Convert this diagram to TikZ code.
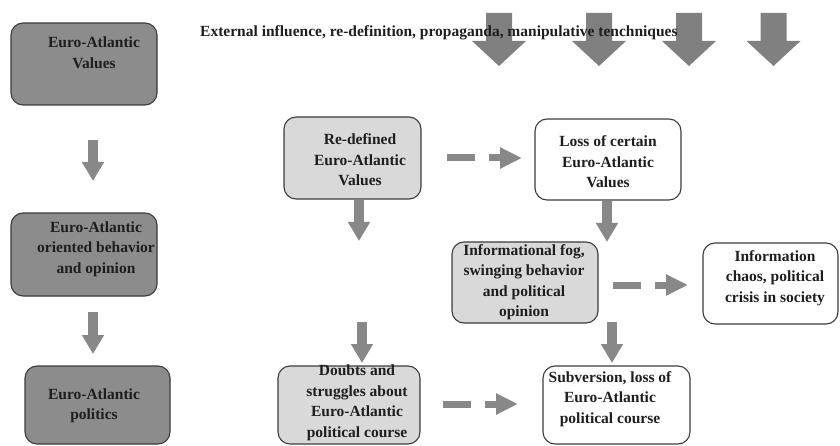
\documentclass[tikz,border=0pt]{standalone}
\usepackage{fontspec}
\setmainfont{Liberation Serif}
\usetikzlibrary{arrows.meta}
\definecolor{darkfill}{HTML}{8C8C8C}
\definecolor{lightfill}{HTML}{D9D9D9}
\definecolor{edge}{HTML}{3C3C3C}
\definecolor{arr}{HTML}{888888}
\definecolor{bigarr}{HTML}{808080}
\definecolor{ink}{HTML}{1E1E1E}
\tikzset{
  box/.style={draw=edge, line width=1.1pt, rounded corners=12pt, inner sep=0pt},
  darkbox/.style={box, fill=darkfill},
  lightbox/.style={box, fill=lightfill},
  whitebox/.style={box, fill=white},
  txt/.style={align=center, text=ink, inner sep=0pt, font=\bfseries\fontsize{15.5}{20.5}\selectfont},
  downarrow/.style={draw=arr, line width=10pt, -{Triangle[width=21pt,length=19pt]}},
  dashbar/.style={draw=arr, line width=7pt},
  dasharrow/.style={draw=arr, line width=7pt, -{Triangle[width=20pt,length=22pt]}},
  bigarrow/.style={fill=bigarr, draw=none}
}
\begin{document}
\begin{tikzpicture}[x=1pt,y=-1pt]
\useasboundingbox (0,0) rectangle (840,446);
% big arrows
\foreach \cx in {499,599,689,773.5}{
  \path[bigarrow] (\cx-13,13) -- (\cx+13,13) -- (\cx+13,41) -- (\cx+27,41) -- (\cx,66) -- (\cx-27,41) -- (\cx-13,41) -- cycle;
}
\node[txt, anchor=west, font=\bfseries\fontsize{15.5}{18}\selectfont] (title) at (200,33) {External influence, re-definition, propaganda, manipulative tenchniques};
% boxes
\node[darkbox, minimum width=146pt, minimum height=82pt] (b1) at (84,64) {};
\node[darkbox, minimum width=146pt, minimum height=83pt] (b2) at (84,254.5) {};
\node[darkbox, minimum width=145pt, minimum height=78pt] (b3) at (97.5,405) {};
\node[lightbox, minimum width=137pt, minimum height=82pt] (b4) at (352.5,158) {};
\node[whitebox, minimum width=146pt, minimum height=81pt] (b5) at (608,159.5) {};
\node[lightbox, minimum width=146pt, minimum height=81pt] (b6) at (525,282.5) {};
\node[whitebox, minimum width=135pt, minimum height=81pt] (b7) at (770.5,283.5) {};
\node[lightbox, minimum width=142pt, minimum height=78pt] (b8) at (349,405) {};
\node[whitebox, minimum width=147pt, minimum height=78pt] (b9) at (616.5,405) {};
% texts
\node[txt] (t1) at (94,52.5) {Euro-Atlantic\\Values};
\node[txt] (t2) at (96,249) {Euro-Atlantic\\oriented behavior\\and opinion};
\node[txt] (t3) at (94,406) {Euro-Atlantic\\politics};
\node[txt] (t4) at (360,160) {Re-defined\\Euro-Atlantic\\Values};
\node[txt] (t5) at (608,162) {Loss of certain\\Euro-Atlantic\\Values};
\node[txt] (t6) at (524,282) {Informational fog,\\swinging behavior\\and political\\opinion};
\node[txt] (t7) at (775,278) {Information\\chaos, political\\crisis in society};
\node[txt] (t8) at (357,403) {Doubts and\\struggles about\\Euro-Atlantic\\political course};
\node[txt] (t9) at (610,399) {Subversion, loss of\\Euro-Atlantic\\political course};
% arrow end points
\coordinate (a1s) at (93,140);  \coordinate (a1e) at (93,181);
\coordinate (a2s) at (93,312);  \coordinate (a2e) at (93,354);
\coordinate (a3s) at (359,200); \coordinate (a3e) at (359,241);
\coordinate (a4s) at (607,201); \coordinate (a4e) at (607,242);
\coordinate (a5s) at (612,322); \coordinate (a5e) at (612,363);
\coordinate (a6s) at (362,322); \coordinate (a6e) at (362,363);
\draw[downarrow] (a1s) -- (a1e);
\draw[downarrow] (a2s) -- (a2e);
\draw[downarrow] (a3s) -- (a3e);
\draw[downarrow] (a4s) -- (a4e);
\draw[downarrow] (a5s) -- (a5e);
\draw[downarrow] (a6s) -- (a6e);
% dashed arrows
\coordinate (d1a) at (447,158); \coordinate (d1b) at (475,158);
\coordinate (d1c) at (489,158); \coordinate (d1d) at (522,158);
\coordinate (d2a) at (613,285); \coordinate (d2b) at (641,285);
\coordinate (d2c) at (655,285); \coordinate (d2d) at (688,285);
\coordinate (d3a) at (443,404); \coordinate (d3b) at (471,404);
\coordinate (d3c) at (485,404); \coordinate (d3d) at (518,404);
\draw[dashbar] (d1a) -- (d1b); \draw[dasharrow] (d1c) -- (d1d);
\draw[dashbar] (d2a) -- (d2b); \draw[dasharrow] (d2c) -- (d2d);
\draw[dashbar] (d3a) -- (d3b); \draw[dasharrow] (d3c) -- (d3d);
\end{tikzpicture}
\end{document}
